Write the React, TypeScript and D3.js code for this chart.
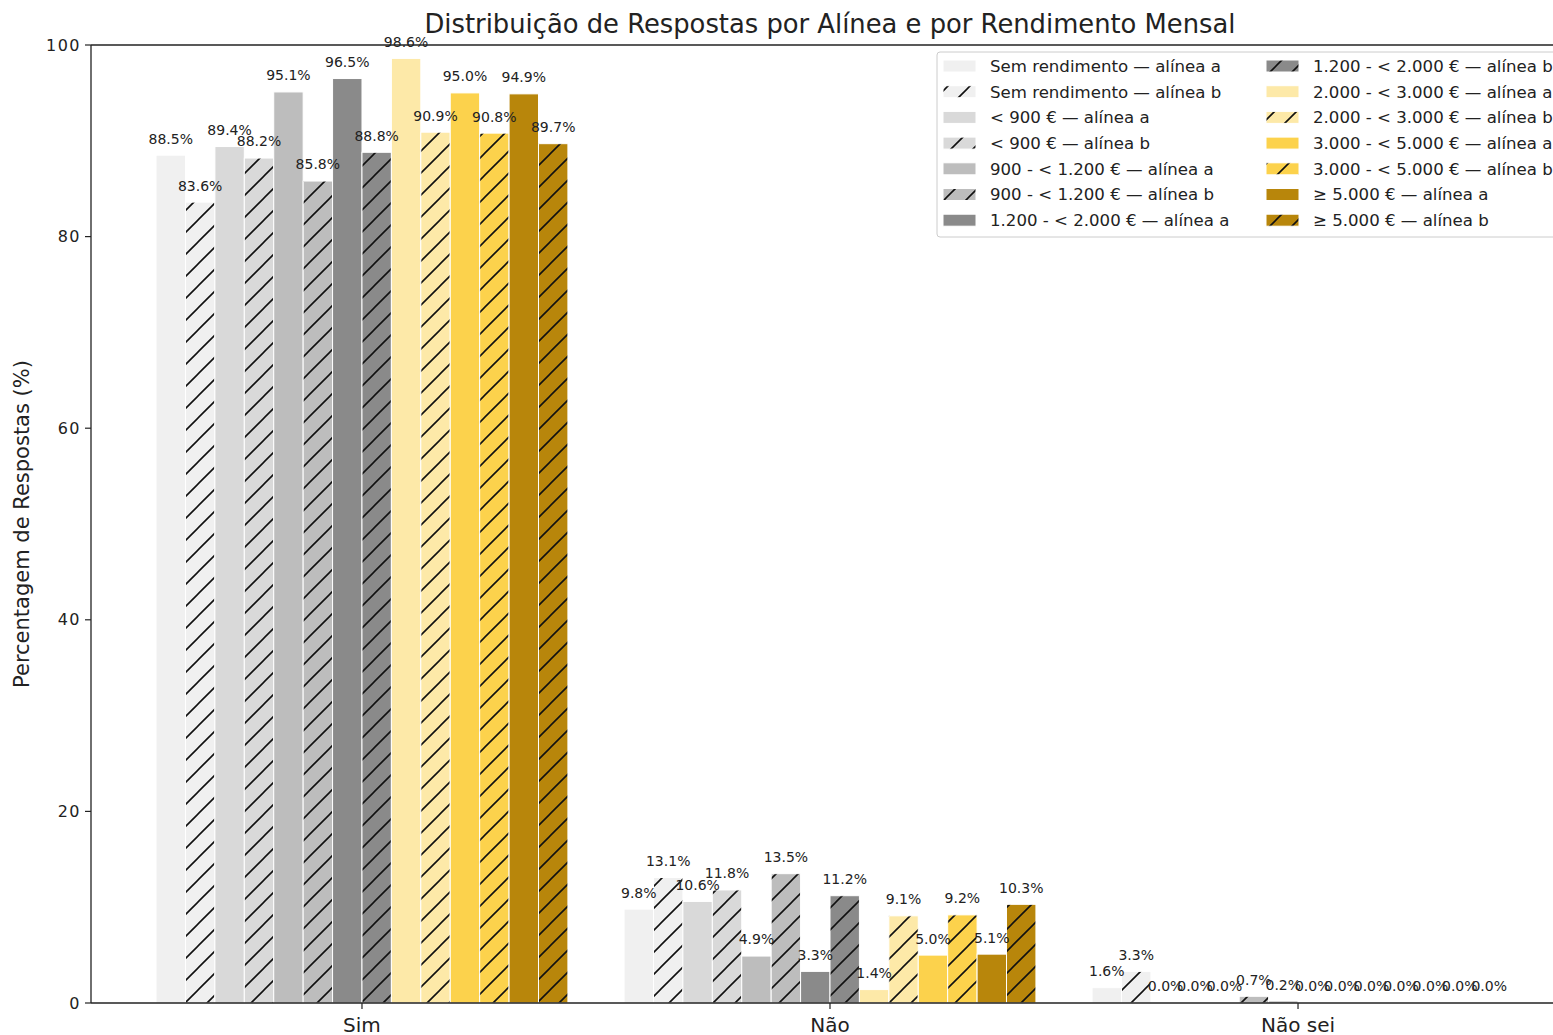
import React from 'react'
import * as d3 from 'd3'

const categories = ['Sim', 'Não', 'Não sei']
const incomeGroups = ['Sem rendimento', '< 900 €', '900 - < 1.200 €', '1.200 - < 2.000 €', '2.000 - < 3.000 €', '3.000 - < 5.000 €', '≥ 5.000 €']
const groupColors = ['#f0f0f0', '#d9d9d9', '#bdbdbd', '#8a8a8a', '#fde9a8', '#fcd24c', '#b8860b']
const alineas = ['a', 'b']

// values per income group, index = category (Sim, Não, Não sei)
const alineaA = [
    [88.5, 9.8, 1.6],
    [89.4, 10.6, 0.0],
    [95.1, 4.9, 0.0],
    [96.5, 3.3, 0.2],
    [98.6, 1.4, 0.0],
    [95.0, 5.0, 0.0],
    [94.9, 5.1, 0.0],
]
const alineaB = [
    [83.6, 13.1, 3.3],
    [88.2, 11.8, 0.0],
    [85.8, 13.5, 0.7],
    [88.8, 11.2, 0.0],
    [90.9, 9.1, 0.0],
    [90.8, 9.2, 0.0],
    [89.7, 10.3, 0.0],
]
const yTicks = [0, 20, 40, 60, 80, 100]

interface Series {
    label: string
    color: string
    hatch: boolean
    values: number[]
}

const series: Series[] = []
incomeGroups.forEach((g, i) => {
    alineas.forEach((al) => {
        series.push({
            label: `${g} — alínea ${al}`,
            color: groupColors[i],
            hatch: al === 'b',
            values: al === 'a' ? alineaA[i] : alineaB[i],
        })
    })
})

const W = 1553
const H = 1035
const left = 91
const right = 1569
const top = 45
const bottom = 1003
const barW = 0.88 / series.length

const x = d3.scaleLinear().domain([-0.579, 2.579]).range([left, right])
const y = d3.scaleLinear().domain([0, 100]).range([bottom, top])

const font = 'DejaVu Sans, sans-serif'

export default function App() {
    const bw = x(barW) - x(0)
    const legendX = 937
    const legendY = 52
    const rowH = 25.7

    return (
        <svg width={W} height={H} style={{ position: 'absolute', left: 0, top: 0, background: '#fff' }} fontFamily={font}>
            <defs>
                <pattern id="hatch" patternUnits="userSpaceOnUse" width={22} height={22}>
                    <path d="M0,22 L22,0 M-5.5,5.5 L5.5,-5.5 M16.5,27.5 L27.5,16.5" stroke="#111" strokeWidth={1.6} />
                </pattern>
            </defs>
            <rect width={W} height={H} fill="#fff" />

            {/* bars */}
            {categories.map((c, ci) =>
                series.map((s, si) => {
                    const x0 = x(ci - (series.length / 2) * barW + si * barW)
                    const v = s.values[ci]
                    return (
                        <g key={`${c}-${si}`}>
                            <rect x={x0} y={y(v)} width={bw} height={y(0) - y(v)} fill={s.color} />
                            {s.hatch && v > 0 && <rect x={x0} y={y(v)} width={bw} height={y(0) - y(v)} fill="url(#hatch)" />}
                            <rect x={x0} y={y(v)} width={bw} height={y(0) - y(v)} fill="none" stroke="#fff" strokeWidth={1} />
                        </g>
                    )
                })
            )}

            {/* value labels */}
            {categories.map((c, ci) =>
                series.map((s, si) => {
                    const cx = x(ci - (series.length / 2) * barW + (si + 0.5) * barW)
                    const v = s.values[ci]
                    return (
                        <text key={`lbl-${c}-${si}`} x={cx} y={y(v + 1) - 2} textAnchor="middle" fontSize={14} fill="#222">
                            {v.toFixed(1)}%
                        </text>
                    )
                })
            )}

            {/* spines */}
            <line x1={left} x2={left} y1={top} y2={bottom} stroke="#222" strokeWidth={1.3} />
            <line x1={left} x2={right} y1={top} y2={top} stroke="#222" strokeWidth={1.3} />
            <line x1={left} x2={right} y1={bottom} y2={bottom} stroke="#222" strokeWidth={1.3} />
            <line x1={right} x2={right} y1={top} y2={bottom} stroke="#222" strokeWidth={1.3} />

            {/* y axis */}
            {yTicks.map((t) => (
                <g key={`yt-${t}`}>
                    <line x1={left - 6} x2={left} y1={y(t)} y2={y(t)} stroke="#222" strokeWidth={1.2} />
                    <text x={left - 10} y={y(t)} dy="0.35em" textAnchor="end" fontSize={16} letterSpacing={1.5} fill="#222">{t}</text>
                </g>
            ))}
            <text transform={`translate(29,${(top + bottom) / 2}) rotate(-90)`} textAnchor="middle" fontSize={21} fill="#222">
                Percentagem de Respostas (%)
            </text>

            {/* x axis */}
            {categories.map((c, ci) => (
                <g key={`xt-${c}`}>
                    <line x1={x(ci)} x2={x(ci)} y1={bottom} y2={bottom + 6} stroke="#222" strokeWidth={1.2} />
                    <text x={x(ci)} y={bottom + 29} textAnchor="middle" fontSize={20} fill="#222">{c}</text>
                </g>
            ))}

            {/* title */}
            <text x={830} y={33} textAnchor="middle" fontSize={25.8} fill="#222">
                Distribuição de Respostas por Alínea e por Rendimento Mensal
            </text>

            {/* legend */}
            <rect x={legendX} y={legendY} width={640} height={185} rx={3} fill="#fff" fillOpacity={0.8} stroke="#ccc" />
            {series.map((s, si) => {
                const col = si < 7 ? 0 : 1
                const row = si % 7
                const hx = col === 0 ? 943 : 1266
                const cy = legendY + 14 + row * rowH
                return (
                    <g key={`leg-${si}`}>
                        <rect x={hx} y={cy - 6} width={33} height={12} fill={s.color} />
                        {s.hatch && <rect x={hx} y={cy - 6} width={33} height={12} fill="url(#hatch)" />}
                        <rect x={hx} y={cy - 6} width={33} height={12} fill="none" stroke="#fff" strokeWidth={1} />
                        <text x={hx + 47} y={cy} dy="0.35em" fontSize={16.6} fill="#222">{s.label}</text>
                    </g>
                )
            })}
        </svg>
    )
}
